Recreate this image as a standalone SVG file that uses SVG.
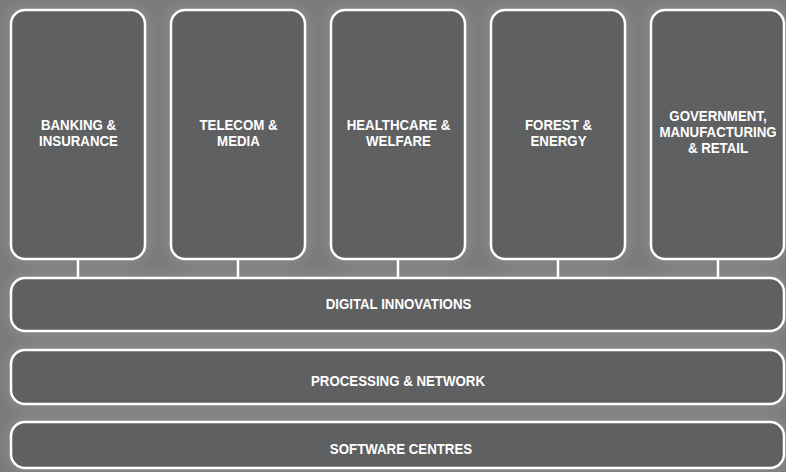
<svg xmlns="http://www.w3.org/2000/svg" width="786" height="472" viewBox="0 0 786 472">
<defs>
<filter id="glow" x="-20%" y="-20%" width="140%" height="140%"><feGaussianBlur stdDeviation="6"/></filter>
<style>
.box{fill:#5f6062;stroke:#ffffff;stroke-width:2.5}
.halo{fill:none;stroke:#a8a8aa;stroke-width:8;opacity:0.45}
.lbl{font-family:"Liberation Sans",Arial,sans-serif;font-weight:bold;font-size:15px;fill:#ffffff;text-anchor:middle}
.con{stroke:#ffffff;stroke-width:2.5;fill:none}
</style>
</defs>
<rect width="786" height="472" fill="#7a7a7c"/>
<g filter="url(#glow)">
<rect class="halo" x="11" y="10" width="134" height="249" rx="14"/>
<rect class="halo" x="171" y="10" width="134" height="249" rx="14"/>
<rect class="halo" x="331" y="10" width="134" height="249" rx="14"/>
<rect class="halo" x="491" y="10" width="134" height="249" rx="14"/>
<rect class="halo" x="651" y="10" width="133" height="249" rx="14"/>
<rect class="halo" x="11" y="278" width="773" height="53" rx="14"/>
<rect class="halo" x="11" y="350" width="773" height="54" rx="14"/>
<rect class="halo" x="11" y="422" width="773" height="46" rx="14"/>
</g>
<g id="connectors">
<line class="con" x1="78" y1="259" x2="78" y2="278"/>
<line class="con" x1="238" y1="259" x2="238" y2="278"/>
<line class="con" x1="398" y1="259" x2="398" y2="278"/>
<line class="con" x1="558" y1="259" x2="558" y2="278"/>
<line class="con" x1="718" y1="259" x2="718" y2="278"/>
</g>
<g id="banking">
<rect class="box" x="11" y="10" width="134" height="249" rx="14"/>
<text class="lbl" transform="translate(78.5,129.5) scale(0.885,1)">BANKING &amp;</text>
<text class="lbl" transform="translate(78.5,146) scale(0.885,1)">INSURANCE</text>
</g>
<g id="telecom">
<rect class="box" x="171" y="10" width="134" height="249" rx="14"/>
<text class="lbl" transform="translate(238.5,129.5) scale(0.885,1)">TELECOM &amp;</text>
<text class="lbl" transform="translate(238.5,146) scale(0.885,1)">MEDIA</text>
</g>
<g id="healthcare">
<rect class="box" x="331" y="10" width="134" height="249" rx="14"/>
<text class="lbl" transform="translate(398.5,129.5) scale(0.885,1)">HEALTHCARE &amp;</text>
<text class="lbl" transform="translate(398.5,146) scale(0.885,1)">WELFARE</text>
</g>
<g id="forest">
<rect class="box" x="491" y="10" width="134" height="249" rx="14"/>
<text class="lbl" transform="translate(558.5,129.5) scale(0.885,1)">FOREST &amp;</text>
<text class="lbl" transform="translate(558.5,146) scale(0.885,1)">ENERGY</text>
</g>
<g id="government">
<rect class="box" x="651" y="10" width="133" height="249" rx="14"/>
<text class="lbl" transform="translate(718,121) scale(0.885,1)">GOVERNMENT,</text>
<text class="lbl" transform="translate(718,137) scale(0.885,1)">MANUFACTURING</text>
<text class="lbl" transform="translate(718,153) scale(0.885,1)">&amp; RETAIL</text>
</g>
<g id="digital">
<rect class="box" x="11" y="278" width="773" height="53" rx="14"/>
<text class="lbl" transform="translate(398.5,309) scale(0.885,1)">DIGITAL INNOVATIONS</text>
</g>
<g id="processing">
<rect class="box" x="11" y="350" width="773" height="54" rx="14"/>
<text class="lbl" transform="translate(398,385.5) scale(0.885,1)">PROCESSING &amp; NETWORK</text>
</g>
<g id="software">
<rect class="box" x="11" y="422" width="773" height="46" rx="14"/>
<text class="lbl" transform="translate(401,454) scale(0.885,1)">SOFTWARE CENTRES</text>
</g>
</svg>
